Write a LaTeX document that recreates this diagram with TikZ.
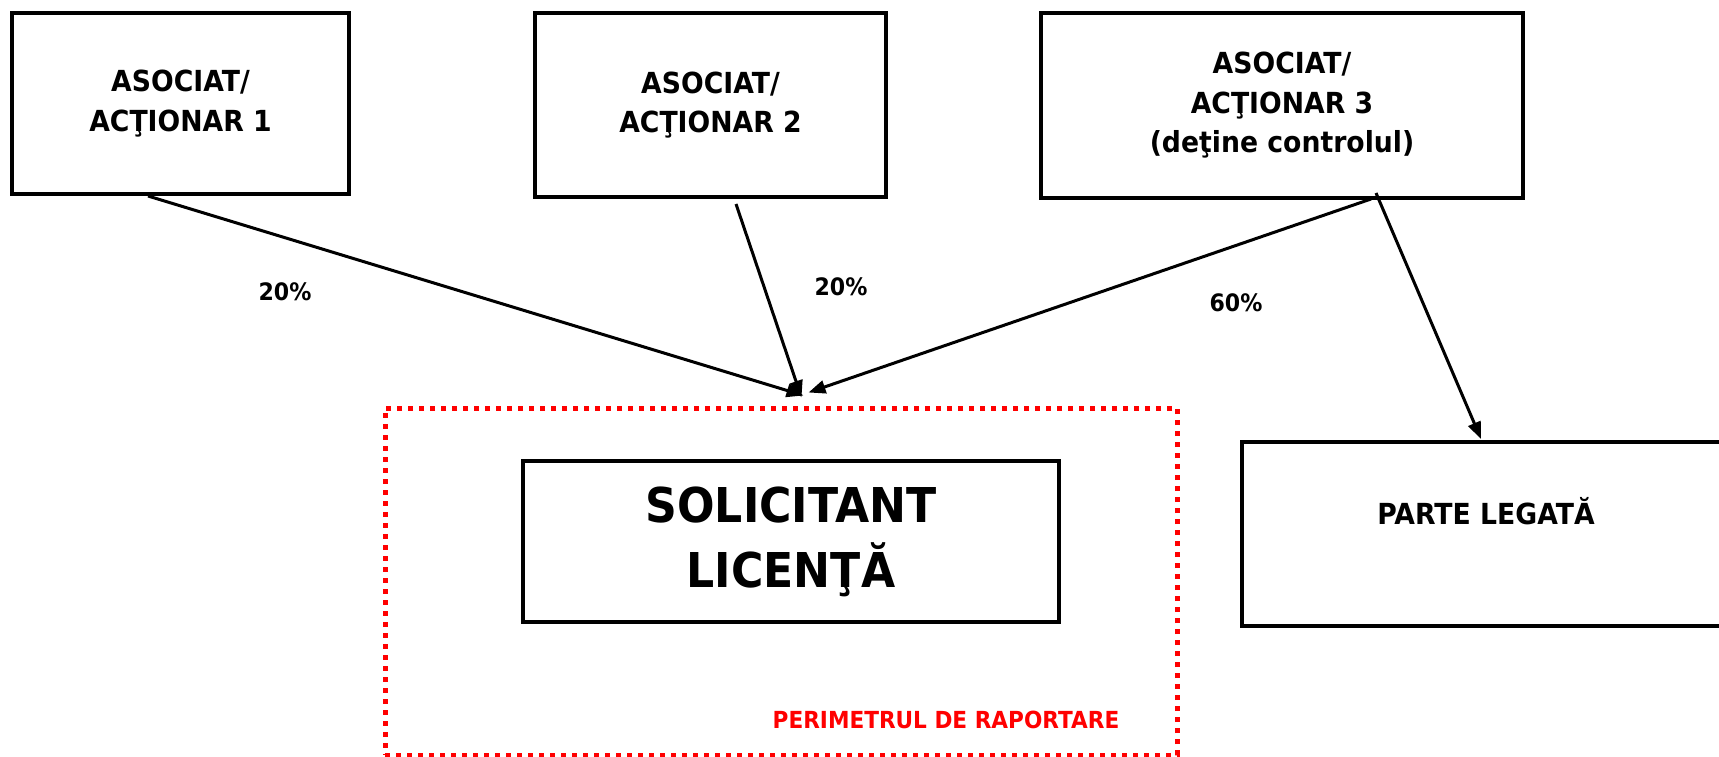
\documentclass[tikz,border=0pt]{standalone}
\usepackage{fontspec}
\setmainfont{DejaVu Sans}[FakeStretch=0.92]
\usetikzlibrary{arrows.meta,calc}
\begin{document}
\begin{tikzpicture}[x=1pt,y=-1pt,
  box/.style={draw=black, line width=4pt, rectangle, inner sep=0pt, align=center,
    font=\bfseries\fontsize{29}{39.5}\selectfont},
  conn/.style={draw=black, line width=3pt, -{Triangle[length=17pt,width=13pt]}},
  pct/.style={font=\bfseries\fontsize{24}{28}\selectfont},
  perim/.style={draw=red, line width=5pt, dash pattern=on 4.7pt off 6.3pt, inner sep=0pt},
]
\useasboundingbox (0,0) rectangle (1719,757);
\fill[white] (0,0) rectangle (1719,757);

% boxes
\node[box, minimum width=337pt, minimum height=181pt] (a1) at (180.5,103.5) {ASOCIAT/\\AC\char"0162IONAR 1};
\node[box, minimum width=351pt, minimum height=184pt] (a2) at (710.5,105) {ASOCIAT/\\AC\char"0162IONAR 2};
\node[box, minimum width=482pt, minimum height=185pt] (a3) at (1282,105.5) {ASOCIAT/\\AC\char"0162IONAR 3\\(de\char"0163ine controlul)};
\node[perim, minimum width=792pt, minimum height=347pt] (per) at (781,581.5) {};
\node[box, font=\bfseries\fontsize{48}{65}\selectfont, minimum width=536pt, minimum height=161pt] (sol) at (791,541.5) {SOLICITANT\\LICEN\char"0162\char"0102};
\node[box, minimum width=480pt, minimum height=184pt] (pl) at (1482,534) {};
\node[font=\bfseries\fontsize{29}{39.5}\selectfont] (plt) at (1486,511) {PARTE LEGAT\char"0102};
\node[text=red, font=\bfseries\fontsize{23.5}{28}\selectfont] (perl) at (946,720) {PERIMETRUL DE RAPORTARE};

% connector end points
\coordinate (s1) at ($(a1.south west)+(138,0)$);
\coordinate (s2) at ($(a2.south west)+(203,5)$);
\coordinate (s3) at ($(a3.south west)+(332,-1)$);
\coordinate (s4) at ($(a3.south west)+(337,-7)$);
\coordinate (e1) at ($(per.north west)+(421,-10)$);
\coordinate (e2) at ($(per.north west)+(419,-8)$);
\coordinate (e3) at ($(per.north west)+(426,-13)$);
\coordinate (e4) at ($(pl.north west)+(241,-1)$);

\draw[conn] (s1) -- (e1);
\draw[conn] (s2) -- (e2);
\draw[conn] (s3) -- (e3);
\draw[conn] (s4) -- (e4);

% percentages
\node[pct] (p1) at (285,292) {20\%};
\node[pct] (p2) at (841,287) {20\%};
\node[pct] (p3) at (1236,303) {60\%};
\end{tikzpicture}
\end{document}
